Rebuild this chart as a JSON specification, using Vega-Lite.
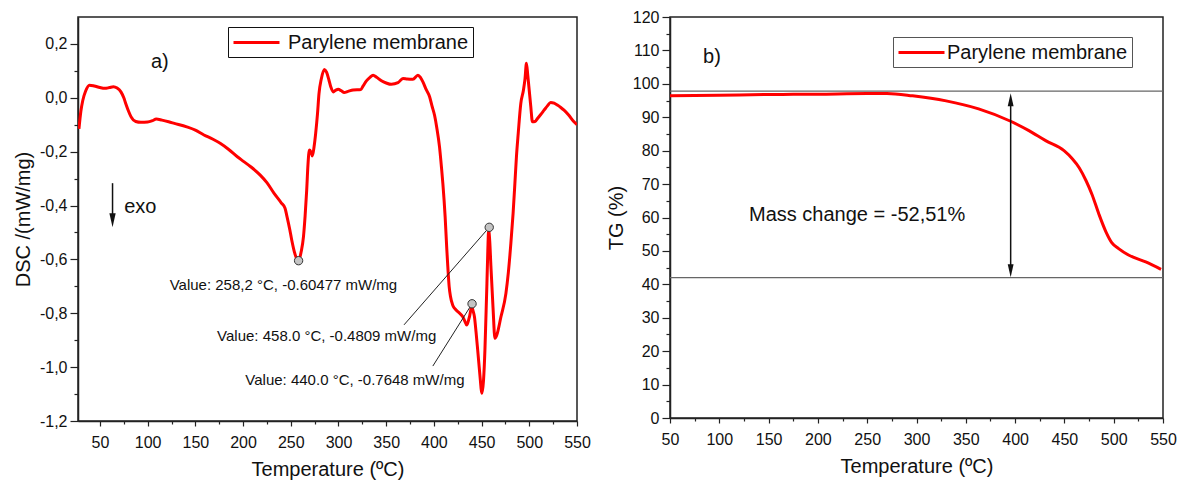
{
  "$schema": "https://vega.github.io/schema/vega-lite/v6.json",
  "background": "white",
  "padding": {"left": 12, "top": 8, "right": 0, "bottom": 0},
  "autosize": {"type": "pad"},
  "spacing": 13,
  "datasets": {
    "dsc": [
      {"T": 28, "v": -0.115}, {"T": 30, "v": -0.05}, {"T": 32, "v": -0.01}, {"T": 35, "v": 0.025},
      {"T": 39, "v": 0.047}, {"T": 44, "v": 0.044}, {"T": 50, "v": 0.038}, {"T": 55, "v": 0.035},
      {"T": 60, "v": 0.038}, {"T": 64, "v": 0.041}, {"T": 68, "v": 0.036}, {"T": 72, "v": 0.022},
      {"T": 75, "v": 0.0}, {"T": 77, "v": -0.021}, {"T": 80, "v": -0.05}, {"T": 82.5, "v": -0.07},
      {"T": 87.5, "v": -0.088}, {"T": 93, "v": -0.091}, {"T": 100, "v": -0.09}, {"T": 105, "v": -0.085},
      {"T": 109, "v": -0.079}, {"T": 115, "v": -0.083}, {"T": 122, "v": -0.089}, {"T": 128, "v": -0.095},
      {"T": 141, "v": -0.108}, {"T": 150, "v": -0.12}, {"T": 159, "v": -0.138}, {"T": 168, "v": -0.153},
      {"T": 176, "v": -0.169}, {"T": 185, "v": -0.192}, {"T": 194, "v": -0.219}, {"T": 200, "v": -0.235},
      {"T": 208, "v": -0.256}, {"T": 218, "v": -0.287}, {"T": 225, "v": -0.315}, {"T": 232, "v": -0.352},
      {"T": 240, "v": -0.39}, {"T": 244, "v": -0.41}, {"T": 246, "v": -0.44}, {"T": 249, "v": -0.49},
      {"T": 251, "v": -0.528}, {"T": 254, "v": -0.575}, {"T": 257.3, "v": -0.603}, {"T": 259, "v": -0.598},
      {"T": 261, "v": -0.57}, {"T": 263.3, "v": -0.516}, {"T": 265, "v": -0.44}, {"T": 266.7, "v": -0.343},
      {"T": 268, "v": -0.25}, {"T": 269.5, "v": -0.194}, {"T": 271, "v": -0.2}, {"T": 272.6, "v": -0.216},
      {"T": 274.5, "v": -0.18}, {"T": 276.1, "v": -0.132}, {"T": 278, "v": -0.06}, {"T": 279.6, "v": 0.016},
      {"T": 282, "v": 0.07}, {"T": 285.2, "v": 0.105}, {"T": 287.5, "v": 0.095}, {"T": 290, "v": 0.066},
      {"T": 292, "v": 0.04}, {"T": 294.6, "v": 0.022}, {"T": 297, "v": 0.028}, {"T": 299.8, "v": 0.032},
      {"T": 303, "v": 0.026}, {"T": 306, "v": 0.02}, {"T": 310, "v": 0.024}, {"T": 315.4, "v": 0.029},
      {"T": 323.5, "v": 0.031}, {"T": 326, "v": 0.045}, {"T": 329.3, "v": 0.063}, {"T": 333, "v": 0.076},
      {"T": 336.3, "v": 0.084}, {"T": 340, "v": 0.076}, {"T": 345, "v": 0.063}, {"T": 350, "v": 0.055},
      {"T": 355.4, "v": 0.05}, {"T": 362.4, "v": 0.056}, {"T": 367.6, "v": 0.072}, {"T": 372, "v": 0.07},
      {"T": 378, "v": 0.069}, {"T": 383.3, "v": 0.084}, {"T": 386, "v": 0.075}, {"T": 388.5, "v": 0.059},
      {"T": 392, "v": 0.03}, {"T": 395.5, "v": 0.004}, {"T": 398, "v": -0.03}, {"T": 400.7, "v": -0.065},
      {"T": 403, "v": -0.11}, {"T": 405.9, "v": -0.182}, {"T": 408, "v": -0.26}, {"T": 409.4, "v": -0.318},
      {"T": 411.8, "v": -0.442}, {"T": 413.5, "v": -0.56}, {"T": 414.6, "v": -0.627}, {"T": 416, "v": -0.7},
      {"T": 417.4, "v": -0.738}, {"T": 420, "v": -0.772}, {"T": 423.3, "v": -0.788}, {"T": 427, "v": -0.8},
      {"T": 430.3, "v": -0.813}, {"T": 432.5, "v": -0.83}, {"T": 434.4, "v": -0.844}, {"T": 436, "v": -0.83},
      {"T": 437.3, "v": -0.813}, {"T": 439.7, "v": -0.776}, {"T": 441, "v": -0.79}, {"T": 442.5, "v": -0.813},
      {"T": 444.2, "v": -0.87}, {"T": 445.9, "v": -0.936}, {"T": 448, "v": -1.02}, {"T": 450.4, "v": -1.097},
      {"T": 452, "v": -1.05}, {"T": 453.5, "v": -0.936}, {"T": 454.5, "v": -0.82}, {"T": 455.6, "v": -0.689},
      {"T": 456.5, "v": -0.57}, {"T": 457.4, "v": -0.491}, {"T": 458.5, "v": -0.53}, {"T": 459.8, "v": -0.627},
      {"T": 462, "v": -0.78}, {"T": 464, "v": -0.893}, {"T": 466, "v": -0.88}, {"T": 470.3, "v": -0.813},
      {"T": 475.5, "v": -0.726}, {"T": 478, "v": -0.65}, {"T": 480.7, "v": -0.54}, {"T": 483, "v": -0.43},
      {"T": 484.9, "v": -0.318}, {"T": 486.5, "v": -0.22}, {"T": 488.4, "v": -0.132}, {"T": 491.1, "v": -0.021},
      {"T": 493.9, "v": 0.029}, {"T": 495.5, "v": 0.07}, {"T": 497, "v": 0.128}, {"T": 498.5, "v": 0.08},
      {"T": 499.9, "v": 0.029}, {"T": 501.5, "v": -0.03}, {"T": 503.3, "v": -0.089}, {"T": 506, "v": -0.088},
      {"T": 508.6, "v": -0.077}, {"T": 512, "v": -0.062}, {"T": 515.5, "v": -0.046}, {"T": 519, "v": -0.03},
      {"T": 522.4, "v": -0.017}, {"T": 526, "v": -0.02}, {"T": 529.4, "v": -0.027}, {"T": 533, "v": -0.036},
      {"T": 536.4, "v": -0.046}, {"T": 541, "v": -0.063}, {"T": 546.8, "v": -0.089}, {"T": 550, "v": -0.1}
    ],
    "tg": [
      {"T": 50, "v": 96.4}, {"T": 100, "v": 96.6}, {"T": 150, "v": 96.8}, {"T": 200, "v": 96.9},
      {"T": 250, "v": 97.1}, {"T": 270, "v": 97.1}, {"T": 296, "v": 96.4}, {"T": 330, "v": 94.9},
      {"T": 363, "v": 92.5}, {"T": 395.5, "v": 88.8}, {"T": 414, "v": 86}, {"T": 431, "v": 83},
      {"T": 449.6, "v": 80}, {"T": 458, "v": 77.6}, {"T": 465, "v": 74.9}, {"T": 472, "v": 71},
      {"T": 478, "v": 66.9}, {"T": 485, "v": 61}, {"T": 492, "v": 55.8}, {"T": 498, "v": 52.5},
      {"T": 505, "v": 50.7}, {"T": 515.5, "v": 48.7}, {"T": 532.5, "v": 46.7}, {"T": 548, "v": 44.5}
    ],
    "marks": [
      {"T": 258.2, "v": -0.60477, "lx": null, "lv": null},
      {"T": 440.0, "v": -0.7648, "lx": 398.9, "lv": -0.996},
      {"T": 458.0, "v": -0.4809, "lx": 368.7, "lv": -0.843}
    ],
    "notes": [
      {"T": 123.1, "v": -0.695, "label": "Value: 258,2 °C, -0.60477 mW/mg"},
      {"T": 172.8, "v": -0.884, "label": "Value: 458.0 °C, -0.4809 mW/mg"},
      {"T": 202.4, "v": -1.048, "label": "Value: 440.0 °C, -0.7648 mW/mg"}
    ],
    "bigtextA": [
      {"T": 103.5, "v": 0.134, "label": "a)"},
      {"T": 75.4, "v": -0.406, "label": "exo"}
    ],
    "exoArrow": [{"T": 63.2, "v": -0.317, "v2": -0.445, "head": -0.455}],
    "tgLevels": [{"v": 97.8}, {"v": 42.0}],
    "tgArrow": [{"T": 395.5, "v": 44, "v2": 95}],
    "tgHeadUp": [{"T": 395.5, "v": 95.2}],
    "tgHeadDown": [{"T": 395.5, "v": 44.1}],
    "bigtextB": [
      {"T": 83.5, "v": 107.9, "label": "b)"},
      {"T": 130.1, "v": 60.6, "label": "Mass change = -52,51%"}
    ]
  },
  "hconcat": [
    {
      "width": 499,
      "height": 404,
      "resolve": {"axis": {"x": "independent", "y": "independent"}},
      "layer": [
        {
          "layer": [
            {
              "data": {"name": "dsc"},
              "transform": [{"calculate": "'Parylene membrane'", "as": "series"}],
              "mark": {"type": "line", "strokeWidth": 3, "interpolate": "monotone", "clip": true},
              "encoding": {
                "x": {"field": "T", "type": "quantitative",
                      "scale": {"domain": [27, 550], "nice": false, "zero": false},
                      "axis": {"title": "Temperature (ºC)", "orient": "bottom", "values": [50,100,150,200,250,300,350,400,450,500,550],
                               "tickCount": 30, "tickSize": 5, "labelPadding": 8, "titlePadding": 9, "labelFlush": false, "labelOverlap": false}},
                "y": {"field": "v", "type": "quantitative",
                      "scale": {"domain": [-1.2, 0.3], "nice": false, "zero": false},
                      "axis": {"title": "DSC /(mW/mg)", "orient": "left", "values": [-1.2,-1.0,-0.8,-0.6,-0.4,-0.2,0,0.2],
                               "labelExpr": "replace(replace(format(datum.value, '.1f'), '.', ','), '\u2212', '-')",
                               "tickCount": 30, "tickSize": 8, "labelPadding": 3, "titlePadding": 6, "labelFlush": false, "labelOverlap": false}},
                "color": {"field": "series", "type": "nominal",
                          "scale": {"domain": ["Parylene membrane"], "range": ["#ff0000"]},
                          "legend": {"title": null, "orient": "none", "legendX": 150, "legendY": 10,
                                     "symbolType": "M-1,0L3.6,0", "symbolSize": 400, "symbolStrokeWidth": 3,
                                     "labelFontSize": 20, "labelColor": "#111", "labelOffset": 33, "labelLimit": 0,
                                     "strokeColor": "#111", "padding": 4, "fillColor": "white"}}
              }
            },
            {
              "data": {"name": "marks"},
              "transform": [{"filter": "datum.lx != null"}],
              "mark": {"type": "rule", "color": "#222", "strokeWidth": 1},
              "encoding": {
                "x": {"field": "T", "type": "quantitative"},
                "y": {"field": "v", "type": "quantitative"},
                "x2": {"field": "lx"},
                "y2": {"field": "lv"}
              }
            },
            {
              "data": {"name": "marks"},
              "mark": {"type": "point", "filled": true, "size": 70, "fill": "#c4c4c4", "stroke": "#333", "strokeWidth": 1, "opacity": 1},
              "encoding": {
                "x": {"field": "T", "type": "quantitative"},
                "y": {"field": "v", "type": "quantitative"}
              }
            },
            {
              "data": {"name": "notes"},
              "mark": {"type": "text", "align": "left", "baseline": "middle", "fontSize": 15, "color": "#111"},
              "encoding": {
                "x": {"field": "T", "type": "quantitative"},
                "y": {"field": "v", "type": "quantitative"},
                "text": {"field": "label"}
              }
            },
            {
              "data": {"name": "bigtextA"},
              "mark": {"type": "text", "align": "left", "baseline": "middle", "fontSize": 20, "color": "#111"},
              "encoding": {
                "x": {"field": "T", "type": "quantitative"},
                "y": {"field": "v", "type": "quantitative"},
                "text": {"field": "label"}
              }
            },
            {
              "data": {"name": "exoArrow"},
              "mark": {"type": "rule", "color": "#111", "strokeWidth": 1.5},
              "encoding": {
                "x": {"field": "T", "type": "quantitative"},
                "y": {"field": "v", "type": "quantitative"},
                "y2": {"field": "v2"}
              }
            },
            {
              "data": {"name": "exoArrow"},
              "mark": {"type": "point", "shape": "M-0.45,-1L0.45,-1L0,1Z", "filled": true, "size": 196, "color": "#111", "opacity": 1},
              "encoding": {
                "x": {"field": "T", "type": "quantitative"},
                "y": {"field": "head", "type": "quantitative"}
              }
            }
          ]
        },
        {
          "data": {"name": "marks"},
          "mark": {"type": "point", "opacity": 0},
          "encoding": {
            "x": {"field": "T", "type": "quantitative",
                  "axis": {"title": null, "orient": "bottom", "labels": false, "domain": false, "tickSize": 3, "tickCount": 30,
                           "values": [75,125,175,225,275,325,375,425,475,525]}},
            "y": {"field": "v", "type": "quantitative",
                  "axis": {"title": null, "orient": "left", "labels": false, "domain": false, "tickSize": 4, "tickCount": 30,
                           "values": [-1.1,-0.9,-0.7,-0.5,-0.3,-0.1,0.1]}}
          }
        }
      ]
    },
    {
      "width": 493,
      "height": 401,
      "resolve": {"axis": {"x": "independent", "y": "independent"}},
      "layer": [
        {
          "layer": [
            {
              "data": {"name": "tg"},
              "transform": [{"calculate": "'Parylene membrane'", "as": "series"}],
              "mark": {"type": "line", "strokeWidth": 3, "interpolate": "monotone"},
              "encoding": {
                "x": {"field": "T", "type": "quantitative",
                      "scale": {"domain": [50, 550], "nice": false, "zero": false},
                      "axis": {"title": "Temperature (ºC)", "orient": "bottom", "values": [50,100,150,200,250,300,350,400,450,500,550],
                               "tickCount": 30, "tickSize": 5, "labelPadding": 8, "titlePadding": 9, "labelFlush": false, "labelOverlap": false}},
                "y": {"field": "v", "type": "quantitative",
                      "scale": {"domain": [0, 120], "nice": false},
                      "axis": {"title": "TG (%)", "orient": "left", "values": [0,10,20,30,40,50,60,70,80,90,100,110,120],
                               "tickCount": 30, "tickSize": 8, "labelPadding": 3, "titlePadding": 6, "labelFlush": false, "labelOverlap": false}},
                "color": {"field": "series", "type": "nominal",
                          "scale": {"domain": ["Parylene membrane"], "range": ["#ff0000"]},
                          "legend": {"title": null, "orient": "none", "legendX": 223, "legendY": 20,
                                     "symbolType": "M-1,0L3.6,0", "symbolSize": 400, "symbolStrokeWidth": 3,
                                     "labelFontSize": 20, "labelColor": "#111", "labelOffset": 27, "labelLimit": 0,
                                     "strokeColor": "#555", "padding": 4, "fillColor": "white"}}
              }
            },
            {
              "data": {"name": "tgLevels"},
              "mark": {"type": "rule", "color": "#666", "strokeWidth": 1.2},
              "encoding": {
                "y": {"field": "v", "type": "quantitative"}
              }
            },
            {
              "data": {"name": "tgArrow"},
              "mark": {"type": "rule", "color": "#111", "strokeWidth": 1.5},
              "encoding": {
                "x": {"field": "T", "type": "quantitative"},
                "y": {"field": "v", "type": "quantitative"},
                "y2": {"field": "v2"}
              }
            },
            {
              "data": {"name": "tgHeadUp"},
              "mark": {"type": "point", "shape": "M-0.45,1L0.45,1L0,-1Z", "filled": true, "size": 169, "color": "#111", "opacity": 1},
              "encoding": {
                "x": {"field": "T", "type": "quantitative"},
                "y": {"field": "v", "type": "quantitative"}
              }
            },
            {
              "data": {"name": "tgHeadDown"},
              "mark": {"type": "point", "shape": "M-0.45,-1L0.45,-1L0,1Z", "filled": true, "size": 169, "color": "#111", "opacity": 1},
              "encoding": {
                "x": {"field": "T", "type": "quantitative"},
                "y": {"field": "v", "type": "quantitative"}
              }
            },
            {
              "data": {"name": "bigtextB"},
              "mark": {"type": "text", "align": "left", "baseline": "middle", "fontSize": 20, "color": "#111"},
              "encoding": {
                "x": {"field": "T", "type": "quantitative"},
                "y": {"field": "v", "type": "quantitative"},
                "text": {"field": "label"}
              }
            }
          ]
        },
        {
          "data": {"name": "tg"},
          "mark": {"type": "point", "opacity": 0},
          "encoding": {
            "x": {"field": "T", "type": "quantitative",
                  "axis": {"title": null, "orient": "bottom", "labels": false, "domain": false, "tickSize": 3, "tickCount": 30,
                           "values": [75,125,175,225,275,325,375,425,475,525]}},
            "y": {"field": "v", "type": "quantitative",
                  "axis": {"title": null, "orient": "left", "labels": false, "domain": false, "tickSize": 4, "tickCount": 30,
                           "values": [5,15,25,35,45,55,65,75,85,95,105,115]}}
          }
        }
      ]
    }
  ],
  "resolve": {"scale": {"color": "independent"}, "legend": {"color": "independent"}},
  "config": {
    "font": "Liberation Sans",
    "view": {"stroke": "#222", "strokeWidth": 1.5},
    "axis": {
      "grid": false, "domainColor": "#222", "domainWidth": 1.5, "tickColor": "#222", "tickWidth": 1.2,
      "labelFont": "Liberation Sans", "labelFontSize": 16, "labelColor": "#111",
      "titleFont": "Liberation Sans", "titleFontSize": 20, "titleFontWeight": "normal", "titleColor": "#111"
    },
    "legend": {"labelFont": "Liberation Sans"},
    "text": {"font": "Liberation Sans"}
  }
}
